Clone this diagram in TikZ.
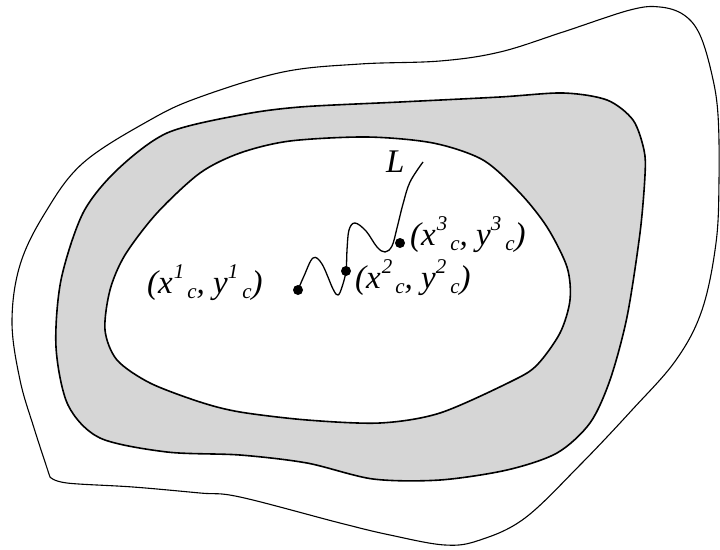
\documentclass[tikz,border=0pt]{standalone}
\usepackage{fontspec}
\setmainfont{Liberation Serif}
\newcommand\psup[1]{\raisebox{15pt}{\fontsize{21}{21}\selectfont #1}}
\newcommand\psub[1]{\raisebox{-5pt}{\fontsize{21}{21}\selectfont #1}}
\newcommand\ptlab[1]{\itshape (x\kern1pt\psup{#1}\kern3pt\psub{c},\ y\psup{#1}\kern4pt\psub{c})}
\tikzset{
  outerline/.style={draw=black, line width=1.1pt},
  ringline/.style={draw=black, line width=1.6pt, fill=gray!32, even odd rule},
  pathline/.style={draw=black, line width=1.3pt},
  dotnode/.style={circle, fill=black, inner sep=0pt, minimum size=10pt},
  lab/.style={anchor=base west, inner sep=0pt, font=\fontsize{33}{33}\selectfont}
}
\begin{document}
\begin{tikzpicture}[x=1pt,y=-1pt]
\useasboundingbox (0,0) rectangle (720,549);
% outer boundary
\draw[outerline] plot[smooth, tension=0.6] coordinates {
 (50,477) (34,428) (20,380) (12,322) (20,265) (45,213) (83,163) (150,120)
 (200,97) (283,72) (360,64) (440,61) (500,52) (563,32) (630,10) (660,7)
 (684,15) (700,35) (712,75) (718,115) (719,180) (716,243) (702,310) (676,360)
 (632,410) (580,465) (525,518) (480,540) (445,545) (390,535) (340,523) (240,497)
 (200,493) (133,487) (67,483) (50,477)};
% shaded ring
\path[ringline]
 plot[smooth cycle] coordinates {
 (240,115) (300,107) (400,102) (500,97) (563,93) (607,100) (633,120) (644,150)
 (645,175) (640,233) (627,317) (610,380) (590,423) (557,453) (507,470) (440,480)
 (373,479) (307,463) (240,455) (167,452) (100,438) (68,405) (56,347) (61,280)
 (83,213) (117,170) (167,133)}
 plot[smooth cycle] coordinates {
 (367,137) (433,143) (483,160) (520,193) (547,227) (567,267) (570,300) (560,333)
 (537,365) (512,381) (440,413) (380,423) (307,420) (240,412) (200,402) (150,383)
 (117,360) (105,330) (110,290) (125,255) (157,213) (200,173) (240,153) (290,141)};
% curve L
\coordinate (c1) at (298,290);
\coordinate (c2) at (346,271);
\coordinate (c3) at (400,243);
\coordinate (ltop) at (423,162);
\draw[pathline] plot[smooth, tension=0.6] coordinates {
 (c1) (304,276) (313,258) (322,264) (333,289) (338,295) (342,287) (c2)
 (347,250) (349,230) (355,223) (366,231) (377,247) (385,252) (392,246)
 (397,228) (403,204) (410,182) (ltop)};
\node[dotnode] (d1) at (c1) {};
\node[dotnode] (d2) at (c2) {};
\node[dotnode] (d3) at (c3) {};
\node[lab] (lab1) at (147,293) {\ptlab{1}};
\node[lab] (lab2) at (355,288) {\ptlab{2}};
\node[lab] (lab3) at (410,245) {\ptlab{3}};
\node[lab] (labL) at (386,172) {\itshape L};
\end{tikzpicture}
\end{document}
